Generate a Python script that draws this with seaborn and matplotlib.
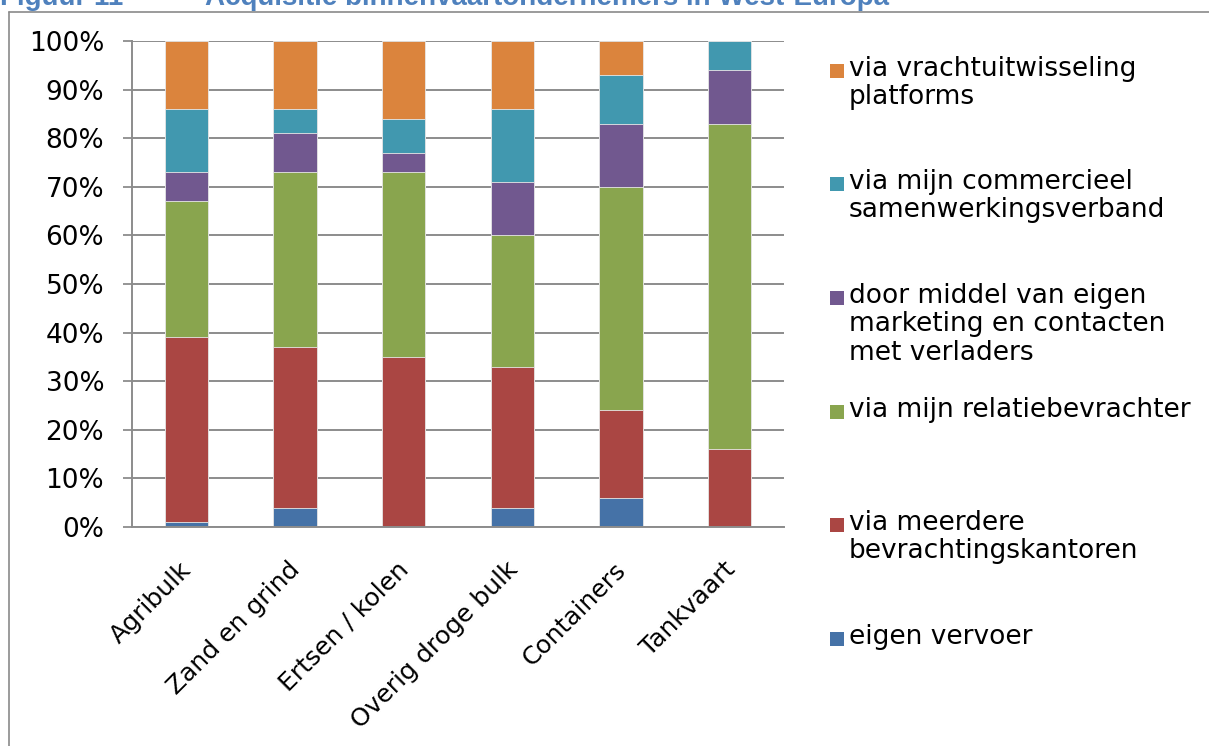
import matplotlib
matplotlib.use("Agg")
import matplotlib.pyplot as plt
from matplotlib.lines import Line2D
from matplotlib.patches import Rectangle
from matplotlib.transforms import ScaledTranslation
import seaborn as sns
import numpy as np

categories = ["Agribulk", "Zand en grind", "Ertsen / kolen", "Overig droge bulk", "Containers", "Tankvaart"]

# shares per category (%), bottom to top of the stack
eigen_vervoer = [1, 4, 0, 4, 6, 0]
meerdere_kantoren = [38, 33, 35, 29, 18, 16]
relatiebevrachter = [28, 36, 38, 27, 46, 67]
eigen_marketing = [6, 8, 4, 11, 13, 11]
commercieel_verband = [13, 5, 7, 15, 10, 6]
vracht_platforms = [14, 14, 16, 14, 7, 0]

series_labels = [
    "eigen vervoer",
    "via meerdere\nbevrachtingskantoren",
    "via mijn relatiebevrachter",
    "door middel van eigen\nmarketing en contacten\nmet verladers",
    "via mijn commercieel\nsamenwerkingsverband",
    "via vrachtuitwisseling\nplatforms",
]
series_colors = ["#4572A7", "#AA4643", "#89A54E", "#71588F", "#4198AF", "#DB843D"]

yticks = list(range(0, 101, 10))
ytick_labels = [f"{v}%" for v in yticks]

sns.set_theme(style="white")
plt.rcParams["font.family"] = ["DejaVu Sans"]

W, H = 1209, 746
fig = plt.figure(figsize=(W / 100, H / 100), dpi=100)
ax = fig.add_axes([132 / W, 1 - 527 / H, 652 / W, 486 / H])

series = [eigen_vervoer, meerdere_kantoren, relatiebevrachter,
          eigen_marketing, commercieel_verband, vracht_platforms]
cum = np.cumsum(np.array(series), axis=0)

# draw the cumulative tops from the highest layer down so they stack
for i in range(len(series) - 1, -1, -1):
    sns.barplot(x=categories, y=cum[i], color=series_colors[i], saturation=1,
                width=0.4, edgecolor="#e8e8e8", linewidth=0.6, ax=ax, zorder=3)

grid_col = "#8c8c8c"
ax.set_ylim(0, 100)
ax.set_xlim(-0.5, len(categories) - 0.5)
ax.set_yticks(yticks)
ax.set_yticklabels(ytick_labels, fontsize=19, color="black")
ax.yaxis.grid(True, color=grid_col, linewidth=1.4, zorder=0)
ax.xaxis.grid(False)
ax.set_axisbelow(True)
ax.set_xlabel("")
ax.set_ylabel("")

ax.set_xticks(range(len(categories)))
ax.set_xticklabels(categories, fontsize=18, rotation=45, ha="right",
                   rotation_mode="anchor", va="top", color="black")
ax.set_xticks(np.arange(-0.5, len(categories), 1.0), minor=True)
ax.tick_params(axis="x", which="major", length=0, pad=22)
ax.tick_params(axis="x", which="minor", length=6.5, width=1.3, color=grid_col, direction="out")
ax.tick_params(axis="y", length=6.5, width=1.3, color=grid_col, direction="out", pad=13.5, left=True)
# nudge the rotated labels a little to the left, as in the original
shift = ScaledTranslation(-7 / 100, 0, fig.dpi_scale_trans)
for lab in ax.get_xticklabels():
    lab.set_transform(lab.get_transform() + shift)

for side in ["top", "right"]:
    ax.spines[side].set_visible(False)
for side in ["left", "bottom"]:
    ax.spines[side].set_color(grid_col)
    ax.spines[side].set_linewidth(1.4)
    ax.spines[side].set_zorder(4)

# legend, drawn by hand to keep the Excel-like spacing
legend_y = [71, 184, 298, 412, 525, 639]
order = [5, 4, 3, 2, 1, 0]
for y, idx in zip(legend_y, order):
    fig.add_artist(Rectangle((830 / W, 1 - (y + 7) / H), 14 / W, 14 / H,
                             transform=fig.transFigure, facecolor=series_colors[idx],
                             edgecolor="none"))
    fig.text(849 / W, 1 - (y - 15) / H, series_labels[idx], fontsize=19,
             va="top", ha="left", linespacing=1.12, color="black")

# report frame and (cut-off) figure caption
frame_col = "#8a8a8a"
fig.add_artist(Line2D([9 / W, 9 / W], [0, 1 - 12 / H], transform=fig.transFigure,
                      color=frame_col, linewidth=1.2))
fig.add_artist(Line2D([9 / W, 1], [1 - 12 / H, 1 - 12 / H], transform=fig.transFigure,
                      color=frame_col, linewidth=1.2))
title_col = "#4F81BD"
fig.text(0 / W, 1 - 5 / H, "Figuur 11", fontsize=20, fontweight="bold",
         family="Liberation Sans", color=title_col, va="baseline")
fig.text(205 / W, 1 - 5 / H, "Acquisitie binnenvaartondernemers in West-Europa",
         fontsize=20, fontweight="bold", family="Liberation Sans", color=title_col,
         va="baseline")

fig.savefig("out.png", dpi=100)
